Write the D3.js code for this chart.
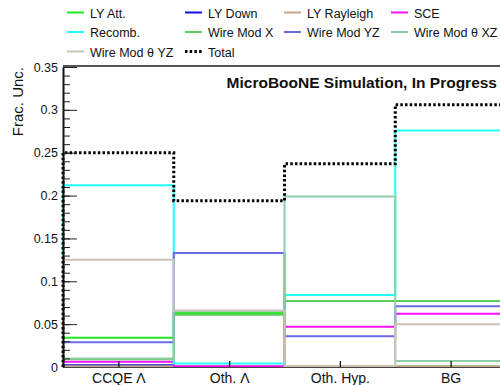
<!DOCTYPE html>
<html>
<head>
<meta charset="utf-8">
<script src="https://cdn.jsdelivr.net/npm/d3@7"></script>
<style>
  body { margin: 0; background: #fff; }
  svg { display: block; font-family: "Liberation Sans", Arial, sans-serif; }
</style>
</head>
<body>
<svg id="chart" width="500" height="385"></svg>
<script>
// bins and per-source fractional uncertainties
var categories = ["CCQE \u039b", "Oth. \u039b", "Oth. Hyp.", "BG"];
var lyAtt          = [0.034, 0.063, 0.001, 0.001];
var lyDown         = [0.002, 0.000, 0.000, 0.000];
var lyRayleigh     = [0.001, 0.001, 0.001, 0.001];
var sce            = [0.006, 0.001, 0.047, 0.062];
var recomb         = [0.212, 0.004, 0.084, 0.276];
var wireModX       = [0.009, 0.061, 0.077, 0.077];
var wireModYZ      = [0.029, 0.133, 0.036, 0.071];
var wireModThetaXZ = [0.010, 0.065, 0.199, 0.007];
var wireModThetaYZ = [0.125, 0.066, 0.001, 0.050];
var total          = [0.250, 0.194, 0.237, 0.306];
var yTicks = [0, 0.05, 0.1, 0.15, 0.2, 0.25, 0.3, 0.35];

var series = [
  { name: "LY Att.", values: lyAtt, color: "#22e822" },
  { name: "LY Down", values: lyDown, color: "#1010e0" },
  { name: "LY Rayleigh", values: lyRayleigh, color: "#c8a68a" },
  { name: "SCE", values: sce, color: "#ff10ff" },
  { name: "Recomb.", values: recomb, color: "#22ffff" },
  { name: "Wire Mod X", values: wireModX, color: "#5ccc5c" },
  { name: "Wire Mod YZ", values: wireModYZ, color: "#6b6bea" },
  { name: "Wire Mod \u03b8 XZ", values: wireModThetaXZ, color: "#8fcca8" },
  { name: "Wire Mod \u03b8 YZ", values: wireModThetaYZ, color: "#cbc2ba" },
  { name: "Total", values: total, color: "#000", dashed: true }
];

var svg = d3.select("#chart");
var padLeft = 63, padRight = 506, padTop = 67, padBottom = 367;

var x = d3.scaleLinear().domain([0, categories.length]).range([padLeft, padRight]);
var y = d3.scaleLinear().domain([0, 0.35]).range([padBottom, padTop]);

// step outline like a ROOT "hist" draw
var step = d3.line()
  .x(function (d) { return x(d[0]); })
  .y(function (d) { return y(d[1]); })
  .curve(d3.curveStepAfter);

function outline(vals) {
  var pts = [[0, 0]];
  vals.forEach(function (v, i) { pts.push([i, v]); });
  pts.push([vals.length, vals[vals.length - 1]]);
  pts.push([vals.length, 0]);
  return pts;
}

var plot = svg.append("g");
series.forEach(function (s) {
  plot.append("path")
    .attr("d", step(outline(s.values)))
    .attr("fill", "none")
    .attr("stroke", s.color)
    .attr("stroke-width", s.dashed ? 3 : 2)
    .attr("stroke-dasharray", s.dashed ? "2.5,2.2" : null);
});

// frame: top line
svg.append("line")
  .attr("x1", padLeft).attr("x2", 500)
  .attr("y1", padTop - 1).attr("y2", padTop - 1)
  .attr("stroke", "#555").attr("stroke-width", 2);

// y axis, ticks pointing inside
var minor = d3.range(0, 0.3501, 0.01);
svg.append("g")
  .attr("transform", "translate(" + padLeft + ",0)")
  .call(d3.axisLeft(y).tickValues(minor).tickSize(-7).tickSizeOuter(0).tickFormat(""))
  .call(function (g) { g.select(".domain").remove(); })
  .selectAll("line").attr("stroke", "#222");

var yAxis = svg.append("g")
  .attr("transform", "translate(" + padLeft + ",0)")
  .call(d3.axisLeft(y).tickValues(yTicks).tickSize(-14).tickSizeOuter(0).tickPadding(5)
    .tickFormat(function (d) { return +d.toFixed(2); }));
yAxis.select(".domain").attr("stroke", "#111").attr("stroke-width", 2);
yAxis.selectAll(".tick line").attr("stroke", "#222");
yAxis.selectAll("text").attr("font-size", 12.5).attr("fill", "#111")
  .attr("font-family", "Liberation Sans, Arial, sans-serif");

// x axis
var centers = categories.map(function (c, i) { return i + 0.5; });
var xAxis = svg.append("g")
  .attr("transform", "translate(0," + padBottom + ")")
  .call(d3.axisBottom(x).tickValues(centers).tickSize(-6).tickSizeOuter(0).tickPadding(6)
    .tickFormat(function (d, i) { return categories[i]; }));
xAxis.select(".domain").attr("stroke", "#444").attr("stroke-width", 1);
xAxis.selectAll(".tick line").attr("stroke", "#111").attr("stroke-width", 1.3);
xAxis.selectAll("text").attr("font-size", 14).attr("fill", "#111")
  .attr("font-family", "Liberation Sans, Arial, sans-serif");

// y title
svg.append("text")
  .attr("transform", "translate(23," + padTop + ") rotate(-90)")
  .attr("text-anchor", "end")
  .attr("font-size", 15)
  .attr("fill", "#111")
  .text("Frac. Unc.");

svg.append("text")
  .attr("x", 497).attr("y", 88)
  .attr("text-anchor", "end")
  .attr("font-size", 15.5)
  .attr("font-weight", "bold")
  .attr("fill", "#111")
  .text("MicroBooNE Simulation, In Progress");

// legend, 4 columns
var colX = [67, 185, 284, 391];
var legend = svg.append("g");
series.forEach(function (s, i) {
  var cx = colX[i % 4], ry = 12.5 + Math.floor(i / 4) * 19.5;
  legend.append("line")
    .attr("x1", cx).attr("x2", cx + 17)
    .attr("y1", ry).attr("y2", ry)
    .attr("stroke", s.color)
    .attr("stroke-width", s.dashed ? 3 : 2)
    .attr("stroke-dasharray", s.dashed ? "2.5,2.2" : null);
  legend.append("text")
    .attr("x", cx + 23).attr("y", ry + 5)
    .attr("font-size", 12.5)
    .attr("fill", "#111")
    .text(s.name);
});
</script>
</body>
</html>
